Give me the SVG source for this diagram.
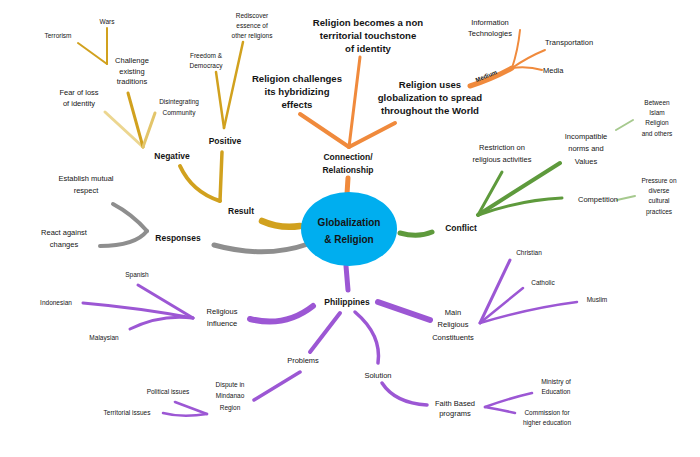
<svg xmlns="http://www.w3.org/2000/svg" width="700" height="457" viewBox="0 0 700 457">
<style>
.t{font-family:"Liberation Sans",Arial,sans-serif;fill:#151515;text-anchor:middle}
.b{font-size:9.6px;font-weight:bold}
.c{font-size:10px;font-weight:bold}
.m{font-size:8.5px;font-weight:bold}
.s{font-size:7.5px}
.x{font-size:6.5px}
.br{fill:none;stroke-linecap:round;stroke-linejoin:round}
.or{stroke:#F08A3C}.go{stroke:#D1A11E}.gr{stroke:#8E8E8E}.gn{stroke:#5E9A3C}.pu{stroke:#9C57D4}
</style>
<rect width="700" height="457" fill="#fff"/>
<g id="connectors">
<path class="br or" stroke-width="5" d="M347,194 L348,178"/>
<path class="br or" stroke-width="4" d="M349,147 L300,114"/>
<path class="br or" stroke-width="3" d="M349,147 L360,57"/>
<path class="br or" stroke-width="4" d="M349,147 L395,123"/>
<path class="br or" stroke-width="5" d="M470,86 Q492,79 512,68"/>
<path class="br or" stroke-width="2" d="M512,68 Q518,50 520,30"/>
<path class="br or" stroke-width="2" d="M512,68 Q528,57 545,50"/>
<path class="br or" stroke-width="2" d="M512,68 Q528,66 542,70"/>
<path class="br go" stroke-width="6.5" d="M300,226 Q280,229 262,221"/>
<path class="br go" stroke-width="4" d="M220,201 Q192,192 180,166"/>
<path class="br go" stroke-width="3.5" d="M220,201 L222,152"/>
<path class="br" stroke="#ECD690" stroke-width="3" d="M143,147 L105,112"/>
<path class="br go" stroke-width="3" d="M143,147 L128,93"/>
<path class="br" stroke="#E3C56A" stroke-width="3" d="M143,147 L155,113"/>
<path class="br go" stroke-width="2" d="M107,64 L107,28"/>
<path class="br go" stroke-width="2" d="M107,64 L78,43"/>
<path class="br go" stroke-width="2.5" d="M224,128 L216,72"/>
<path class="br go" stroke-width="2.5" d="M224,128 L243,42"/>
<path class="br gr" stroke-width="5" d="M308,244 Q265,259 214,245"/>
<path class="br gr" stroke-width="4" d="M147,231 Q132,214 113,204"/>
<path class="br gr" stroke-width="4" d="M147,231 Q135,246 100,246"/>
<path class="br gn" stroke-width="5" d="M400,233 Q418,238 432,232"/>
<path class="br gn" stroke-width="3" d="M478,215 L502,172"/>
<path class="br gn" stroke-width="4" d="M478,215 L560,163"/>
<path class="br gn" stroke-width="3" d="M478,215 Q520,200 562,198"/>
<path class="br" stroke="#A6C98E" stroke-width="2" d="M617,200 L635,196"/>
<path class="br" stroke="#A6C98E" stroke-width="2" d="M616,130 L633,120"/>
<path class="br pu" stroke-width="5" d="M346,266 L348,290"/>
<path class="br pu" stroke-width="6" d="M313,306 Q285,328 250,319"/>
<path class="br pu" stroke-width="3" d="M193,318 L138,285"/>
<path class="br pu" stroke-width="3" d="M193,318 Q140,308 83,303"/>
<path class="br pu" stroke-width="3" d="M193,318 Q160,314 130,329"/>
<path class="br pu" stroke-width="4" d="M340,313 L310,352"/>
<path class="br pu" stroke-width="3.5" d="M300,372 L254,400"/>
<path class="br pu" stroke-width="2.5" d="M207,414 L175,402"/>
<path class="br pu" stroke-width="2.5" d="M207,414 Q182,418 163,413"/>
<path class="br pu" stroke-width="6" d="M378,302 L430,320"/>
<path class="br pu" stroke-width="3" d="M480,323 L510,260"/>
<path class="br pu" stroke-width="2.5" d="M480,323 L523,288"/>
<path class="br pu" stroke-width="2.5" d="M480,323 Q530,308 577,302"/>
<path class="br pu" stroke-width="3.5" d="M355,312 Q382,335 378,363"/>
<path class="br pu" stroke-width="3.5" d="M382,383 Q395,403 427,405"/>
<path class="br pu" stroke-width="2.5" d="M485,407 Q510,398 532,393"/>
<path class="br pu" stroke-width="2.5" d="M485,407 Q502,410 515,413"/>
</g>
<g id="center">
<ellipse cx="349" cy="229" rx="48" ry="37" fill="#00AEEF"/>
<text class="t c" x="349" y="226">Globalization</text>
<text class="t c" x="349" y="243">&amp; Religion</text>
</g>
<g id="connection"><text class="t m" x="348" y="160">Connection/</text><text class="t m" x="348" y="173">Relationship</text></g>
<g id="challenges"><text class="t b" x="297" y="82">Religion challenges</text><text class="t b" x="297" y="95">its hybridizing</text><text class="t b" x="297" y="108">effects</text></g>
<g id="touchstone"><text class="t b" x="368" y="26">Religion becomes a non</text><text class="t b" x="368" y="39">territorial touchstone</text><text class="t b" x="368" y="52">of identity</text></g>
<g id="uses"><text class="t b" x="430" y="88">Religion uses</text><text class="t b" x="430" y="101">globalization to spread</text><text class="t b" x="430" y="114">throughout the World</text></g>
<g id="medium"><text class="t" font-size="6px" font-weight="bold" transform="translate(487,78) rotate(-22)">Medium</text></g>
<g id="infotech"><text class="t s" x="490" y="25">Information</text><text class="t s" x="490" y="36">Technologies</text></g>
<g id="transport"><text class="t s" x="545" y="45" style="text-anchor:start">Transportation</text></g>
<g id="media"><text class="t s" x="543" y="73" style="text-anchor:start">Media</text></g>
<g id="result"><text class="t m" x="241" y="214">Result</text></g>
<g id="positive"><text class="t m" x="225" y="144">Positive</text></g>
<g id="negative"><text class="t m" x="172" y="159">Negative</text></g>
<g id="fear"><text class="t s" x="79" y="95">Fear of loss</text><text class="t s" x="79" y="106">of identity</text></g>
<g id="challenge"><text class="t s" x="132" y="63">Challenge</text><text class="t s" x="132" y="74">existing</text><text class="t s" x="132" y="84">traditions</text></g>
<g id="disintegrating"><text class="t x" x="179" y="104">Disintegrating</text><text class="t x" x="179" y="115">Community</text></g>
<g id="wars"><text class="t x" x="107" y="24">Wars</text></g>
<g id="terrorism"><text class="t x" x="58" y="38">Terrorism</text></g>
<g id="freedom"><text class="t x" x="206" y="58">Freedom &amp;</text><text class="t x" x="206" y="68">Democracy</text></g>
<g id="rediscover"><text class="t x" x="252" y="18">Rediscover</text><text class="t x" x="252" y="28">essence of</text><text class="t x" x="252" y="38">other religions</text></g>
<g id="responses"><text class="t m" x="178" y="241">Responses</text></g>
<g id="establish"><text class="t s" x="86" y="181">Establish mutual</text><text class="t s" x="86" y="193">respect</text></g>
<g id="react"><text class="t s" x="64" y="235">React against</text><text class="t s" x="64" y="247">changes</text></g>
<g id="conflict"><text class="t m" x="461" y="231">Conflict</text></g>
<g id="restriction"><text class="t s" x="502" y="150">Restriction on</text><text class="t s" x="502" y="162">religious activities</text></g>
<g id="incompatible"><text class="t s" x="586" y="139">Incompatible</text><text class="t s" x="586" y="151">norms and</text><text class="t s" x="586" y="164">Values</text></g>
<g id="competition"><text class="t s" x="598" y="202">Competition</text></g>
<g id="between"><text class="t x" x="657" y="105">Between</text><text class="t x" x="657" y="115">Islam</text><text class="t x" x="657" y="125">Religion</text><text class="t x" x="657" y="136">and others</text></g>
<g id="pressure"><text class="t x" x="659" y="183">Pressure on</text><text class="t x" x="659" y="193">diverse</text><text class="t x" x="659" y="203">cultural</text><text class="t x" x="659" y="214">practices</text></g>
<g id="philippines"><text class="t m" x="347" y="305">Philippines</text></g>
<g id="influence"><text class="t s" x="222" y="314">Religious</text><text class="t s" x="222" y="326">Influence</text></g>
<g id="spanish"><text class="t x" x="137" y="277">Spanish</text></g>
<g id="indonesian"><text class="t x" x="56" y="305">Indonesian</text></g>
<g id="malaysian"><text class="t x" x="104" y="340">Malaysian</text></g>
<g id="problems"><text class="t s" x="303" y="363">Problems</text></g>
<g id="dispute"><text class="t x" x="230" y="387">Dispute in</text><text class="t x" x="230" y="398">Mindanao</text><text class="t x" x="230" y="410">Region</text></g>
<g id="political"><text class="t x" x="168" y="394">Political issues</text></g>
<g id="territorial"><text class="t x" x="127" y="415">Territorial issues</text></g>
<g id="main"><text class="t s" x="453" y="315">Main</text><text class="t s" x="453" y="327">Religious</text><text class="t s" x="453" y="340">Constituents</text></g>
<g id="christian"><text class="t x" x="529" y="255">Christian</text></g>
<g id="catholic"><text class="t x" x="543" y="285">Catholic</text></g>
<g id="muslim"><text class="t x" x="597" y="302">Muslim</text></g>
<g id="solution"><text class="t s" x="378" y="378">Solution</text></g>
<g id="faith"><text class="t s" x="455" y="406">Faith Based</text><text class="t s" x="455" y="416">programs</text></g>
<g id="ministry"><text class="t x" x="556" y="384">Ministry of</text><text class="t x" x="556" y="394">Education</text></g>
<g id="commission"><text class="t x" x="547" y="415">Commission for</text><text class="t x" x="547" y="425">higher education</text></g>
</svg>
